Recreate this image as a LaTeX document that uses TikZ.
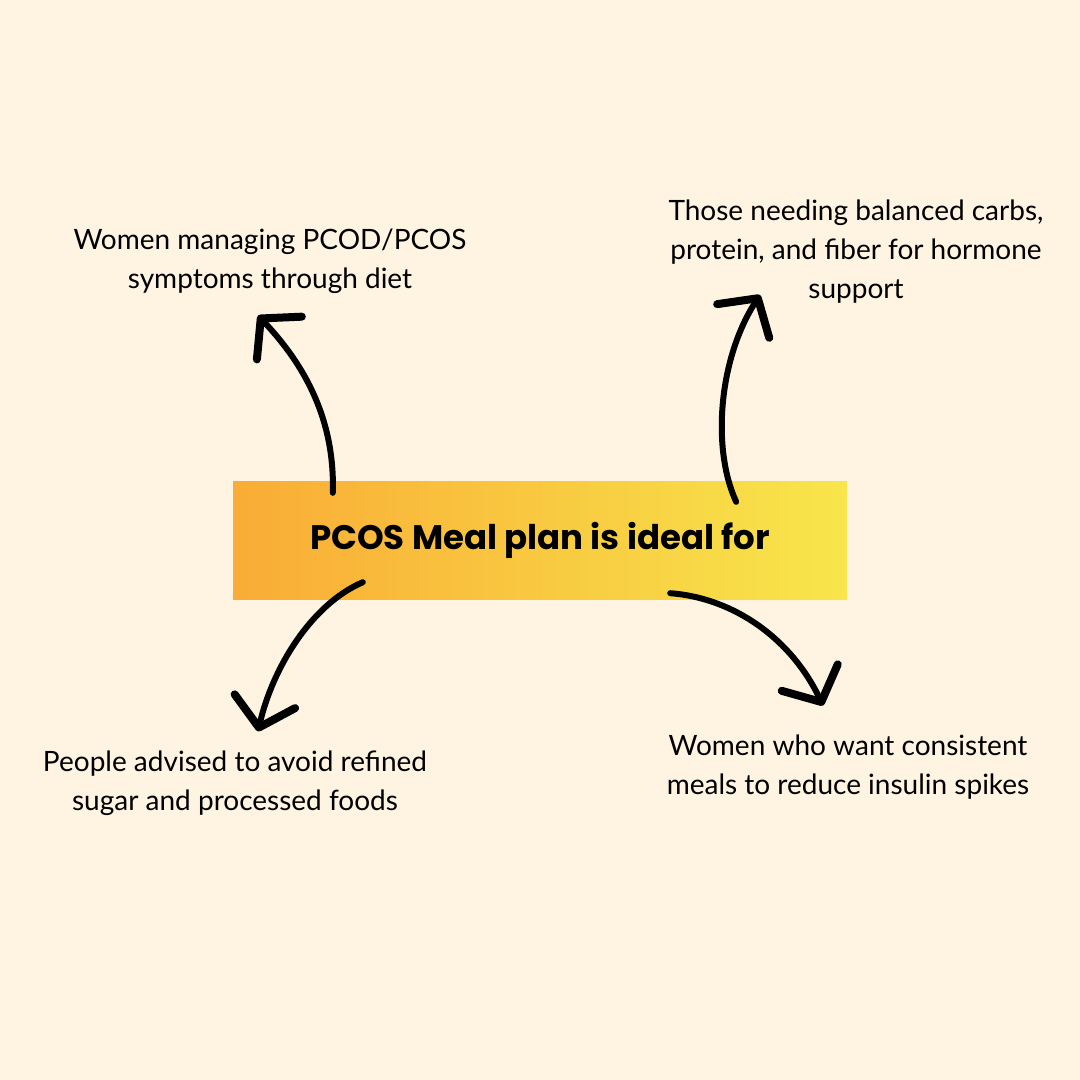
\documentclass[tikz,border=0pt]{standalone}
\usepackage{xcolor}
\usepackage{fontspec}
\usepackage{tikz}
\usetikzlibrary{arrows.meta}
\setmainfont{Lato}
\newfontfamily\titlefont{Poppins}[UprightFont=* Bold]
\definecolor{cream}{HTML}{FEF4E1}
\definecolor{planorange}{HTML}{F9AC36}
\definecolor{planyellow}{HTML}{F8E64B}

\begin{document}
\begin{tikzpicture}[x=1pt,y=-1pt,
    label/.style={align=center,inner sep=0pt,font=\fontsize{28}{39}\selectfont},
    hand/.style={line width=6pt,line cap=round,
        -{Straight Barb[length=27pt,width=62pt,line width=8pt,round]}}]
            \fill[cream] (0,0) rectangle (1080,1080);
            \shade[left color=planorange,right color=planyellow] (233,481) rectangle (847,599);
            \node[inner sep=0pt,minimum width=614pt,minimum height=118pt] (plan) at (540,540)
                {\titlefont\fontsize{34}{40}\selectfont PCOS Meal plan is ideal for};

            \node[label] (diet) at (270,261) {Women managing PCOD/PCOS\\symptoms through diet};
            \node[label] (fiber) at (856,252) {Those needing balanced carbs,\\protein, and fiber for hormone\\support};
            \node[label] (sugar) at (235,783) {People advised to avoid refined\\sugar and processed foods};
            \node[label] (insulin) at (848,767) {Women who want consistent\\meals to reduce insulin spikes};

            \draw[hand] ([xshift=100pt,yshift=-12pt]plan.north west) .. controls (335,420) and (305,365) .. ([xshift=-12pt,yshift=-22pt]diet.south);
            \draw[hand] ([xshift=-111pt,yshift=-21pt]plan.north east) .. controls (712,450) and (718,360) .. ([xshift=-96pt,yshift=9pt]fiber.south);
            \draw[hand] ([xshift=130pt,yshift=17pt]plan.south west) .. controls (310,605) and (272,670) .. ([xshift=23pt,yshift=19pt]sugar.north);
            \draw[hand] ([xshift=-177pt,yshift=6pt]plan.south east) .. controls (735,598) and (792,640) .. ([xshift=-25pt,yshift=29pt]insulin.north);
\end{tikzpicture}
\end{document}
